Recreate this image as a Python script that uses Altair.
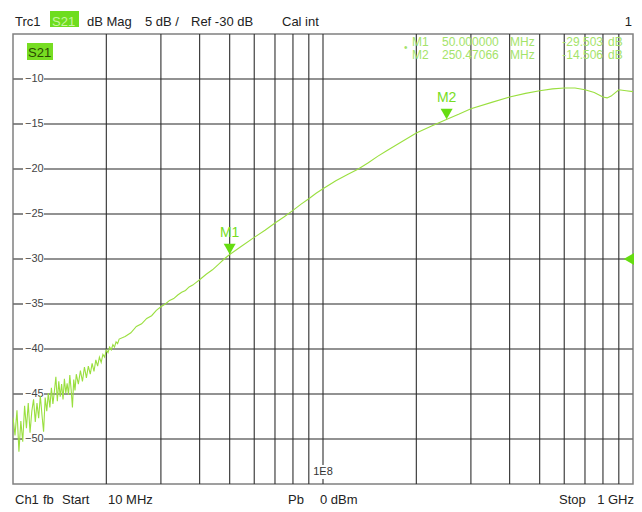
import altair as alt
import pandas as pd

# ---------------- data ----------------
freq_mhz = [
    10.00, 10.15, 10.30, 10.45, 10.60, 10.75, 10.90, 11.05, 11.20, 11.35,
    11.50, 11.65, 11.80, 11.95, 12.10, 12.25, 12.40, 12.55, 12.70, 12.85,
    13.00, 13.15, 13.30, 13.45, 13.60, 13.75, 13.90, 14.05, 14.20, 14.35,
    14.50, 14.65, 14.80, 14.95, 15.10, 15.25, 15.40, 15.55, 15.70, 15.85,
    16.00,
    16.25, 16.50, 16.75, 17.00, 17.25, 17.50, 17.75, 18.00, 18.25, 18.50,
    18.75, 19.00, 19.25, 19.50, 19.75, 20.00, 20.25, 20.50, 20.75, 21.00,
    21.25, 21.50, 21.75, 22.00,
    23.0, 24.0, 25.0, 26.0, 27.0, 28.0, 29.0, 30.0, 31.0, 32.0, 33.0, 34.0,
    35.0, 36.0, 37.0, 38.0, 39.0, 40.0, 42.0, 44.0, 46.0, 48.0, 50.0, 55.0,
    60.0, 65.0, 70.0, 75.0, 80.0, 85.0, 90.0, 95.0, 100.0, 110.0, 120.0,
    130.0, 140.0, 150.0, 160.0, 175.0, 200.0, 225.0, 250.0, 275.0, 300.0,
    350.0, 400.0, 450.0, 500.0, 550.0, 600.0, 650.0, 700.0, 750.0, 800.0,
    825.0, 850.0, 900.0, 950.0, 1000.0,
]
s21_db = [
    -47.6, -49.6, -46.8, -51.4, -48.0, -50.3, -46.3, -48.8, -46.0, -49.3,
    -46.9, -45.6, -48.1, -46.0, -47.7, -45.2, -47.3, -49.2, -45.4, -46.9,
    -44.9, -46.5, -44.3, -46.1, -44.7, -43.1, -45.8, -43.6, -45.3, -43.9,
    -45.6, -43.3, -44.9, -43.8, -45.1, -42.9, -44.5, -46.5, -43.4, -44.6,
    -42.8,
    -43.9, -42.4, -43.6, -42.0, -43.2, -41.9, -42.8, -41.6, -42.5, -41.2,
    -41.9, -40.9, -41.5, -40.6, -40.9, -40.1, -40.4, -39.8, -40.1, -39.5,
    -39.8, -39.2, -39.4, -38.9,
    -38.6, -38.2, -37.5, -37.2, -36.6, -36.3, -35.7, -35.3, -35.0, -34.6, -34.4, -34.0,
    -33.7, -33.5, -33.1, -32.9, -32.6, -32.3, -31.7, -31.2, -30.6, -30.0, -29.5, -28.5,
    -27.6, -26.8, -26.0, -25.3, -24.6, -23.9, -23.3, -22.7, -22.2, -21.3, -20.6,
    -20.0, -19.3, -18.6, -18.0, -17.2, -16.0, -15.2, -14.5, -13.9, -13.3,
    -12.6, -12.0, -11.6, -11.3, -11.1, -11.0, -11.0, -11.2, -11.5, -12.0,
    -12.1, -11.9, -11.2, -11.3, -11.4,
]

grid_db = [-10, -15, -20, -25, -30, -35, -40, -45, -50]
grid_freq = [20, 30, 40, 50, 60, 70, 80, 90, 100, 200, 300, 400, 500, 600, 700, 800, 900]
decade_freq = [100]
decade_label = ["1E8"]

marker_names = ["M1", "M2"]
marker_freq = [50.0, 250.47066]
marker_db = [-29.503, -14.506]
marker_freq_text = ["50.000000", "250.47066"]
marker_db_text = ["-29.503", "-14.506"]

ref_level_db = [-30]

# ---------------- styling ----------------
W, H = 620, 450
FONT = "Liberation Sans"
TRACE = "#9ADF3F"
MARK = "#66DD11"
MTEXT = "#A4E36A"
HGRID = "#6E6E6E"
VGRID = "#2E2E2E"

xs = alt.Scale(type="log", domain=[10, 1000], nice=False)
ys = alt.Scale(domain=[-55, -5], nice=False, zero=False)

trace_df = pd.DataFrame({"f": freq_mhz, "db": s21_db})
hgrid_df = pd.DataFrame({"db": grid_db})
vgrid_df = pd.DataFrame({"f": grid_freq})
dec_df = pd.DataFrame({"f": decade_freq, "lab": decade_label})
mk_df = pd.DataFrame({"name": marker_names, "f": marker_freq, "db": marker_db,
                      "ftxt": marker_freq_text, "dbtxt": marker_db_text})
ref_df = pd.DataFrame({"db": ref_level_db})
dummy = pd.DataFrame({"a": [0]})

X = lambda: alt.X("f:Q", scale=xs, axis=None)
Y = lambda: alt.Y("db:Q", scale=ys, axis=None)


def txt(s, x, y, size=13, color="#222222", align="left", baseline="alphabetic", weight="normal"):
    return alt.Chart(dummy).mark_text(
        text=s, align=align, baseline=baseline, fontSize=size, color=color,
        font=FONT, fontWeight=weight
    ).encode(x=alt.value(x), y=alt.value(y))


def box(x1, x2, y1, y2, color):
    return alt.Chart(dummy).mark_rect(color=color).encode(
        x=alt.value(x1), x2=alt.value(x2), y=alt.value(y1), y2=alt.value(y2))


# horizontal grid: stub + long segment (label sits in the gap)
h_stub = alt.Chart(hgrid_df).mark_rule(color=HGRID, strokeWidth=1.6).encode(
    y=Y(), x=alt.value(0), x2=alt.value(10))
h_long = alt.Chart(hgrid_df).mark_rule(color=HGRID, strokeWidth=1.6).encode(
    y=Y(), x=alt.value(31), x2=alt.value(W))
h_lab = alt.Chart(hgrid_df).mark_text(
    align="left", baseline="middle", fontSize=11, color="#444444", font=FONT
).encode(y=Y(), x=alt.value(12), text=alt.Text("db:Q", format="d"))

# vertical grid
v_rules = alt.Chart(vgrid_df).transform_filter("datum.f != 100").mark_rule(
    color=VGRID, strokeWidth=1.1).encode(x=X(), y=alt.value(0), y2=alt.value(H))
v_dec_top = alt.Chart(dec_df).mark_rule(color=VGRID, strokeWidth=1.1).encode(
    x=X(), y=alt.value(0), y2=alt.value(431))
v_dec_bot = alt.Chart(dec_df).mark_rule(color=VGRID, strokeWidth=1.1).encode(
    x=X(), y=alt.value(445), y2=alt.value(H))
v_dec_lab = alt.Chart(dec_df).mark_text(
    align="center", baseline="middle", fontSize=11, color="#333333", font=FONT
).encode(x=X(), y=alt.value(438), text="lab:N")

# trace
trace = alt.Chart(trace_df).mark_line(color=TRACE, strokeWidth=1.1, clip=True).encode(
    x=X(), y=Y(), order=alt.Order("f:Q"))

# markers
mk_tri = alt.Chart(mk_df).mark_point(
    shape="triangle-down", filled=True, size=144, color=MARK, opacity=1, yOffset=-5.5
).encode(x=X(), y=Y())
mk_lab = alt.Chart(mk_df).mark_text(
    fontSize=14, color="#77DD22", font=FONT, baseline="middle", dy=-22
).encode(x=X(), y=Y(), text="name:N")

# ref level triangle on the right
ref_tri = alt.Chart(ref_df).mark_point(
    shape="triangle-left", filled=True, size=150, color=MARK, opacity=1
).encode(x=alt.value(616), y=Y())

# marker readout (top right)
ro_base = alt.Chart(mk_df).transform_window(row="row_number()").transform_calculate(
    yy="datum.row * 12.5 - 0.5")
ro_y = alt.Y("yy:Q", scale=None)
RO = dict(baseline="alphabetic", fontSize=12, color=MTEXT, font=FONT)
ro_name = ro_base.mark_text(align="left", **RO).encode(
    x=alt.value(399), y=ro_y, text="name:N")
ro_freq = ro_base.mark_text(align="left", **RO).encode(
    x=alt.value(429), y=ro_y, text="ftxt:N")
ro_mhz = ro_base.mark_text(align="left", **RO).encode(
    x=alt.value(497), y=ro_y, text=alt.value("MHz"))
ro_db = ro_base.mark_text(align="right", **RO).encode(
    x=alt.value(590), y=ro_y, text="dbtxt:N")
ro_unit = ro_base.mark_text(align="left", **RO).encode(
    x=alt.value(595), y=ro_y, text=alt.value("dB"))
ro_dot = txt("•", 391, 16.5, size=10, color=MTEXT)

FY = 470
layers = [
    h_stub, h_long, h_lab,
    v_rules, v_dec_top, v_dec_bot, v_dec_lab,
    ro_dot, ro_name, ro_freq, ro_mhz, ro_db, ro_unit,
    trace, mk_tri, mk_lab, ref_tri,
    # inner S21 tag
    box(14, 40, 9, 26, "#77DD22"),
    txt("S21", 15, 22.5, size=13, color="#2A4A00"),
    # header
    txt("Trc1", 2, -8),
    box(37, 66, -23, -7, "#6EDD1E"),
    txt("S21", 39, -8, color="#C8F5A0"),
    txt("dB Mag", 74, -8),
    txt("5 dB /", 132, -8),
    txt("Ref -30 dB", 178, -8),
    txt("Cal int", 269, -8),
    txt("1", 619, -8, align="right"),
    # footer
    txt("Ch1", 2, FY),
    txt("fb", 30, FY),
    txt("Start", 49, FY),
    txt("10 MHz", 95, FY),
    txt("Pb", 275, FY),
    txt("0 dBm", 307, FY),
    txt("Stop", 546, FY),
    txt("1 GHz", 621, FY, align="right"),
]

chart = alt.layer(*layers).properties(
    width=W, height=H,
    autosize=alt.AutoSizeParams(type="none"),
    padding={"left": 5, "top": 26, "right": 1, "bottom": 23},
    background="white",
).configure_view(stroke="#808080", strokeWidth=1.5)

chart.save("out.html", embed_options={"renderer": "svg", "actions": False})
